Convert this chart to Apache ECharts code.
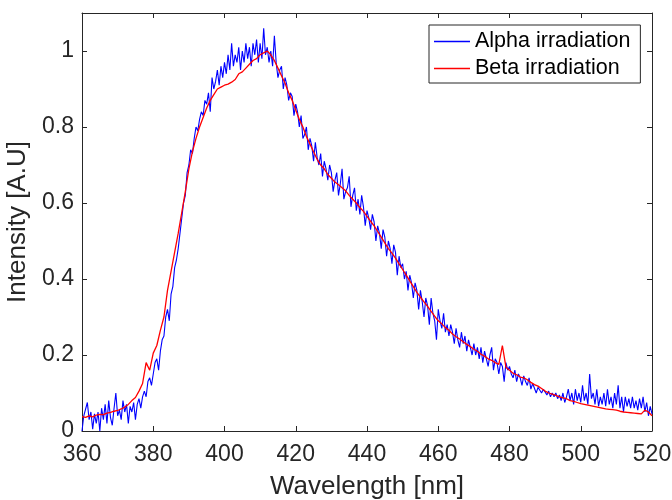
<!DOCTYPE html>
<html>
<head>
<meta charset="utf-8">
<script src="https://cdn.jsdelivr.net/npm/echarts@6/dist/echarts.min.js"></script>
<style>html,body{margin:0;padding:0;background:#fff}#c{width:672px;height:500px}</style>
</head>
<body>
<div id="c"></div>
<script>
// Sample grids (nm)
const alphaStart = 360, alphaStep = 0.5;
const betaStart = 360, betaStep = 1;

// Alpha irradiation intensity (every 0.5 nm, 360..520)
const alphaValues = [
  0.00,0.04,0.035,0.075,0.03,0.05,0.005,0.045,0.02,0.05,
  0.0,0.06,0.03,0.07,0.02,0.08,0.035,0.015,0.06,0.10,
  0.04,0.055,0.03,0.08,0.05,0.07,0.02,0.065,0.05,0.075,
  0.03,0.07,0.085,0.06,0.09,0.105,0.09,0.13,0.14,0.12,
  0.15,0.18,0.19,0.16,0.21,0.24,0.25,0.30,0.32,0.29,
  0.36,0.38,0.43,0.45,0.48,0.52,0.56,0.60,0.62,0.68,
  0.70,0.74,0.73,0.77,0.80,0.79,0.82,0.84,0.83,0.87,
  0.86,0.89,0.84,0.93,0.90,0.92,0.95,0.91,0.96,0.93,
  0.97,0.94,0.99,0.95,1.02,0.96,0.99,0.97,1.01,0.95,
  1.00,0.97,1.02,0.98,1.01,0.96,1.02,0.99,1.03,0.97,
  1.02,0.98,1.06,0.99,1.01,0.97,1.00,0.96,1.04,0.97,
  0.93,0.95,0.96,0.90,0.93,0.91,0.87,0.89,0.88,0.83,
  0.86,0.84,0.80,0.83,0.77,0.78,0.80,0.74,0.77,0.75,
  0.71,0.76,0.72,0.70,0.73,0.67,0.71,0.69,0.66,0.70,
  0.68,0.63,0.66,0.68,0.62,0.65,0.69,0.61,0.63,0.64,
  0.67,0.59,0.62,0.64,0.58,0.61,0.57,0.62,0.59,0.54,
  0.58,0.56,0.53,0.57,0.55,0.50,0.54,0.52,0.48,0.53,
  0.51,0.46,0.50,0.48,0.44,0.49,0.47,0.41,0.46,0.43,
  0.44,0.40,0.42,0.37,0.41,0.39,0.35,0.39,0.37,0.32,
  0.37,0.34,0.30,0.35,0.33,0.28,0.35,0.31,0.29,0.24,
  0.32,0.29,0.27,0.31,0.26,0.28,0.25,0.28,0.26,0.23,
  0.27,0.24,0.22,0.26,0.23,0.25,0.21,0.24,0.22,0.20,
  0.23,0.20,0.22,0.19,0.22,0.18,0.21,0.19,0.17,0.20,
  0.22,0.16,0.19,0.18,0.15,0.18,0.17,0.13,0.18,0.16,
  0.17,0.15,0.14,0.16,0.13,0.15,0.14,0.12,0.145,0.13,
  0.12,0.14,0.11,0.125,0.13,0.10,0.115,0.12,0.10,0.11,
  0.11,0.095,0.105,0.09,0.10,0.09,0.10,0.085,0.095,0.08,
  0.10,0.075,0.09,0.11,0.08,0.10,0.07,0.11,0.08,0.10,
  0.075,0.12,0.08,0.10,0.07,0.15,0.085,0.10,0.07,0.11,
  0.065,0.09,0.07,0.10,0.065,0.11,0.07,0.09,0.06,0.10,
  0.07,0.12,0.06,0.09,0.05,0.09,0.065,0.085,0.06,0.09,
  0.06,0.08,0.055,0.085,0.06,0.09,0.05,0.075,0.04,0.065,
  0.045
];

// Beta irradiation intensity (every 1 nm, 360..520)
const betaValues = [
  0.038,0.036,0.040,0.037,0.042,0.044,0.043,0.047,0.049,0.052,
  0.054,0.058,0.063,0.070,0.080,0.088,0.105,0.125,0.180,0.160,
  0.205,0.225,0.265,0.300,0.370,0.420,0.470,0.520,0.575,0.630,
  0.690,0.735,0.770,0.800,0.825,0.850,0.870,0.885,0.900,0.905,
  0.910,0.913,0.918,0.925,0.940,0.945,0.955,0.965,0.975,0.980,
  0.990,0.995,1.000,0.990,0.975,0.955,0.935,0.915,0.890,0.870,
  0.845,0.820,0.800,0.775,0.755,0.735,0.715,0.700,0.690,0.675,
  0.665,0.655,0.648,0.640,0.632,0.620,0.610,0.600,0.588,0.578,
  0.565,0.552,0.540,0.525,0.510,0.495,0.480,0.468,0.455,0.440,
  0.425,0.410,0.395,0.380,0.365,0.352,0.340,0.328,0.315,0.302,
  0.290,0.282,0.272,0.265,0.255,0.248,0.242,0.235,0.228,0.222,
  0.215,0.210,0.202,0.197,0.190,0.186,0.180,0.175,0.225,0.168,
  0.160,0.152,0.148,0.142,0.140,0.135,0.128,0.122,0.118,0.112,
  0.105,0.100,0.097,0.094,0.090,0.087,0.085,0.080,0.078,0.075,
  0.072,0.070,0.068,0.066,0.064,0.062,0.060,0.058,0.057,0.056,
  0.055,0.052,0.050,0.049,0.048,0.047,0.046,0.045,0.055,0.050,
  0.040
];

const seriesNames = ['Alpha irradiation', 'Beta irradiation'];
const xTitle = 'Wavelength [nm]';
const yTitle = 'Intensity [A.U]';

const alphaData = alphaValues.map((v, i) => [alphaStart + i * alphaStep, v]);
const betaData = betaValues.map((v, i) => [betaStart + i * betaStep, v]);

const axisColor = '#262626';
const font = 'Liberation Sans, Arial, Helvetica, sans-serif';

const chart = echarts.init(document.getElementById('c'), null, {renderer: 'canvas'});
const xBase = {
  type: 'value', min: 360, max: 520, interval: 20,
  axisLine: {show: true, onZero: false, lineStyle: {color: axisColor, width: 1}},
  axisTick: {show: true, inside: true, length: 5, lineStyle: {color: axisColor}},
  splitLine: {show: false}
};
const yBase = {
  type: 'value', min: 0, max: 1.1, interval: 0.2,
  axisLine: {show: true, onZero: false, lineStyle: {color: axisColor, width: 1}},
  axisTick: {show: true, inside: true, length: 5, lineStyle: {color: axisColor}},
  splitLine: {show: false}
};
chart.setOption({
  animation: false,
  backgroundColor: '#fff',
  grid: {left: 82, right: 20, top: 13, bottom: 69, containLabel: false, outerBoundsMode: 'none'},
  legend: {
    orient: 'vertical',
    left: 429, top: 25,
    padding: [5, 10, 3, 5],
    itemGap: 4,
    icon: 'rect',
    itemWidth: 36, itemHeight: 1.5,
    backgroundColor: '#fff',
    borderColor: axisColor, borderWidth: 1,
    textStyle: {fontFamily: font, fontSize: 21.5, color: '#000', lineHeight: 23},
    data: seriesNames
  },
  xAxis: [
    Object.assign({}, xBase, {
      position: 'bottom',
      name: xTitle, nameLocation: 'middle', nameGap: 43,
      nameTextStyle: {fontFamily: font, fontSize: 26, color: axisColor},
      axisLabel: {fontFamily: font, fontSize: 23, color: axisColor, margin: 12}
    }),
    Object.assign({}, xBase, {position: 'top', axisLabel: {show: false}})
  ],
  yAxis: [
    Object.assign({}, yBase, {
      position: 'left',
      name: yTitle, nameLocation: 'middle', nameGap: 46,
      nameTextStyle: {fontFamily: font, fontSize: 26, color: axisColor},
      axisLabel: {fontFamily: font, fontSize: 23, color: axisColor, margin: 8,
        formatter: v => (v > 1.05 ? '' : String(Math.round(v * 10) / 10))}
    }),
    Object.assign({}, yBase, {position: 'right', axisLabel: {show: false}})
  ],
  series: [
    {name: seriesNames[0], type: 'line', data: alphaData, showSymbol: false, symbol: 'none',
     lineStyle: {color: '#0000ff', width: 1.1}, itemStyle: {color: '#0000ff'}, xAxisIndex: 0, yAxisIndex: 0},
    {name: seriesNames[1], type: 'line', data: betaData, showSymbol: false, symbol: 'none',
     lineStyle: {color: '#ff0000', width: 1.3}, itemStyle: {color: '#ff0000'}, xAxisIndex: 0, yAxisIndex: 0}
  ]
});
</script>
</body>
</html>
